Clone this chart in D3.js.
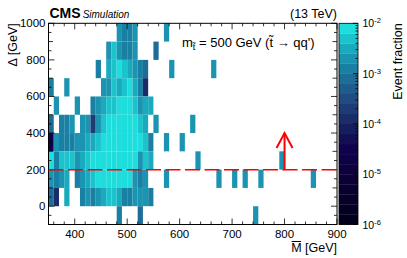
<!DOCTYPE html>
<html>
<head>
<meta charset="utf-8">
<script src="https://cdn.jsdelivr.net/npm/d3@7"></script>
<style>
  html, body { margin: 0; padding: 0; background: #fff; }
  svg { display: block; font-family: "Liberation Sans", Arial, sans-serif; }
</style>
</head>
<body>
<svg id="chart" width="407" height="258"></svg>
<script>
// Binning: M-bar in 10 GeV bins, Delta in 100 GeV bins
const massDomain = [350, 900];
const deltaDomain = [-100, 1000];
const massBin = 10;
const deltaBin = 100;

// Each row: lower Delta edge, then segments [first M-bar bin, one code per bin]
const row900 = [[480, "6556"], [570, "6"]];
const row800 = [[460, "686556"], [550, "4"]];
const row700 = [[440, "5"], [460, "78987654"], [580, "6"], [660, "6"]];
const row600 = [[350, "5"], [380, "6"], [450, "668789751"]];
const row500 = [[360, "6"], [400, "6"], [430, "567889998677"]];
const row400 = [[350, "4"], [370, "556"], [410, "6626899999987"], [550, "6"], [620, "6"]];
const row300 = [[350, "06555667789999999985"], [570, "6"], [600, "6"]];
const row200 = [[350, "95888678999999999687"], [630, "6"], [790, "6"]];
const row100 = [[350, "6567"], [400, "56789999999656"], [570, "6"], [670, "6"], [700, "6"], [720, "6"], [750, "6"], [850, "6"]];
const row0 = [[350, "41"], [380, "7"], [410, "56567887556665"]];
const rowM100 = [[480, "5"], [520, "4"], [740, "6"]];

const rows = [
  [900, row900], [800, row800], [700, row700], [600, row600], [500, row500],
  [400, row400], [300, row300], [200, row200], [100, row100], [0, row0], [-100, rowM100],
];

// log10(event fraction) for each code
const levelExponent = { "0": -4.5, "1": -4.0, "2": -3.7, "3": -3.4, "4": -3.1,
  "5": -2.9, "6": -2.7, "7": -2.5, "8": -2.3, "9": -2.1 };

// z axis
const zDomain = [1e-6, 1e-2];
const zTicks = [1e-6, 1e-5, 1e-4, 1e-3, 1e-2];
const nContours = 20;

// ROOT kDeepSea palette
const paletteStops = [0, 0.125, 0.25, 0.375, 0.5, 0.625, 0.75, 0.875, 1];
const paletteColors = [[0,0,28],[9,0,42],[13,0,59],[17,2,78],[24,37,98],[32,74,129],[27,113,154],[25,160,184],[29,221,221]]
  .map(c => d3.rgb(...c).toString());

// Selection cut
const cutDelta = 200;
const cutArrowM = 800;
const cutArrowTo = 400;

const xTicks = [400, 500, 600, 700, 800, 900];
const yTicks = [0, 200, 400, 600, 800, 1000];

const svg = d3.select("#chart");
const plot = { left: 48.5, right: 337, top: 23.3, bottom: 224.5 };

const x = d3.scaleLinear().domain(massDomain).range([plot.left, plot.right]);
const y = d3.scaleLinear().domain(deltaDomain).range([plot.bottom, plot.top]);
const palette = d3.scaleLinear().domain(paletteStops).range(paletteColors).interpolate(d3.interpolateRgb);
const zLog = d3.scaleLog().domain(zDomain).range([0, 1]);

function contourColor(v) {
  const band = Math.max(0, Math.min(nContours - 1, Math.floor(zLog(v) * nContours + 1e-9)));
  return palette(band / (nContours - 1));
}

// cells
const cells = [];
rows.forEach(([d, segs]) => {
  segs.forEach(([m0, codes]) => {
    [...codes].forEach((c, i) => {
      if (c === ".") return;
      cells.push({ m: m0 + i * massBin, d, v: Math.pow(10, levelExponent[c]) });
    });
  });
});

svg.append("g").selectAll("rect").data(cells).join("rect")
  .attr("x", c => x(c.m))
  .attr("y", c => y(c.d + deltaBin))
  .attr("width", c => x(c.m + massBin) - x(c.m))
  .attr("height", c => y(c.d) - y(c.d + deltaBin))
  .attr("fill", c => contourColor(c.v));

// axes ticks (ROOT style: inside, mirrored)
const ticks = svg.append("g").attr("stroke", "#000").attr("stroke-width", 0.8);
d3.range(360, 901, 20).forEach(m => {
  const len = m % 100 === 0 ? 6 : 3;
  ticks.append("line").attr("x1", x(m)).attr("x2", x(m)).attr("y1", plot.bottom).attr("y2", plot.bottom - len);
  ticks.append("line").attr("x1", x(m)).attr("x2", x(m)).attr("y1", plot.top).attr("y2", plot.top + len);
});
d3.range(-50, 1001, 50).forEach(d => {
  const len = d % 200 === 0 ? 6 : (d % 100 === 0 ? 4.5 : 3);
  ticks.append("line").attr("y1", y(d)).attr("y2", y(d)).attr("x1", plot.left).attr("x2", plot.left + len);
  ticks.append("line").attr("y1", y(d)).attr("y2", y(d)).attr("x1", plot.right).attr("x2", plot.right - len);
});

svg.append("rect")
  .attr("x", plot.left).attr("y", plot.top)
  .attr("width", plot.right - plot.left).attr("height", plot.bottom - plot.top)
  .attr("fill", "none").attr("stroke", "#000").attr("stroke-width", 1);

// tick labels
svg.append("g").selectAll("text").data(xTicks).join("text")
  .attr("x", d => x(d)).attr("y", 237.5)
  .attr("text-anchor", "middle").attr("font-size", 11.5)
  .text(d => d);
svg.append("g").selectAll("text").data(yTicks).join("text")
  .attr("x", 45.5).attr("y", d => y(d) + 4)
  .attr("text-anchor", "end").attr("font-size", 11.5)
  .text(d => d);

// axis titles
const xt = svg.append("text").attr("x", plot.right).attr("y", 252)
  .attr("text-anchor", "end").attr("font-size", 12.5);
xt.append("tspan").attr("class", "mbar").text("M");
xt.append("tspan").text(" [GeV]");
const mb = xt.select(".mbar").node().getBBox();
svg.append("line").attr("x1", mb.x + 0.5).attr("x2", mb.x + mb.width - 0.5)
  .attr("y1", 241.5).attr("y2", 241.5).attr("stroke", "#000").attr("stroke-width", 1);

svg.append("text").attr("transform", `translate(16.5,${plot.top}) rotate(-90)`)
  .attr("text-anchor", "end").attr("font-size", 12.5)
  .text("\u0394 [GeV]");

// cut line + arrow
svg.append("line")
  .attr("x1", plot.left).attr("x2", plot.right)
  .attr("y1", y(cutDelta)).attr("y2", y(cutDelta))
  .attr("stroke", "#ff0000").attr("stroke-width", 1.5).attr("stroke-dasharray", "15,4.5");
const ax = x(cutArrowM);
svg.append("line").attr("x1", ax).attr("x2", ax).attr("y1", y(cutDelta)).attr("y2", y(cutArrowTo))
  .attr("stroke", "#ff0000").attr("stroke-width", 2);
svg.append("path")
  .attr("d", `M${ax - 8},${y(cutArrowTo) + 15}L${ax},${y(cutArrowTo)}L${ax + 8},${y(cutArrowTo) + 15}`)
  .attr("fill", "none").attr("stroke", "#ff0000").attr("stroke-width", 2);

// header
const cms = svg.append("text").attr("x", 49.5).attr("y", 18);
cms.append("tspan").attr("font-weight", "bold").attr("font-size", 14).text("CMS");
cms.append("tspan").attr("font-style", "italic").attr("font-size", 10).attr("dx", 2).text("Simulation");
svg.append("text").attr("x", plot.right).attr("y", 18).attr("text-anchor", "end")
  .attr("font-size", 12.5).text("(13 TeV)");

// legend text
const lg = svg.append("text").attr("x", 182).attr("y", 46.5).attr("font-size", 13);
lg.append("tspan").text("m");
lg.append("tspan").attr("font-size", 9).attr("dy", 3.5).text("t\u0303");
lg.append("tspan").attr("dy", -3.5).text(" = 500 GeV (t\u0303 \u2192 qq')");

// color bar
const cb = { left: 339, right: 358 };
const zy = d3.scaleLog().domain(zDomain).range([plot.bottom, plot.top]);
const bands = d3.range(nContours);
svg.append("g").selectAll("rect").data(bands).join("rect")
  .attr("x", cb.left).attr("width", cb.right - cb.left)
  .attr("y", i => plot.bottom - (i + 1) * (plot.bottom - plot.top) / nContours)
  .attr("height", (plot.bottom - plot.top) / nContours + 0.3)
  .attr("fill", i => palette(i / (nContours - 1)));
const zt = svg.append("g").attr("stroke", "#000").attr("stroke-width", 0.8);
zTicks.forEach((t, k) => {
  zt.append("line").attr("x1", cb.right).attr("x2", cb.right - 5).attr("y1", zy(t)).attr("y2", zy(t));
  if (k < zTicks.length - 1) {
    d3.range(2, 10).forEach(n => {
      zt.append("line").attr("x1", cb.right).attr("x2", cb.right - 2.5)
        .attr("y1", zy(t * n)).attr("y2", zy(t * n));
    });
  }
});
svg.append("rect").attr("x", cb.left).attr("y", plot.top)
  .attr("width", cb.right - cb.left).attr("height", plot.bottom - plot.top)
  .attr("fill", "none").attr("stroke", "#000").attr("stroke-width", 0.8);

const zl = svg.append("g").selectAll("text").data(zTicks).join("text")
  .attr("x", 362.5).attr("y", t => zy(t) + 4).attr("font-size", 10.5);
zl.append("tspan").text("10");
zl.append("tspan").attr("font-size", 7.5).attr("dy", -4).text(t => Math.round(Math.log10(t)));

svg.append("text").attr("transform", `translate(402,${plot.top}) rotate(-90)`)
  .attr("text-anchor", "end").attr("font-size", 12.5)
  .text("Event fraction");
</script>
</body>
</html>
